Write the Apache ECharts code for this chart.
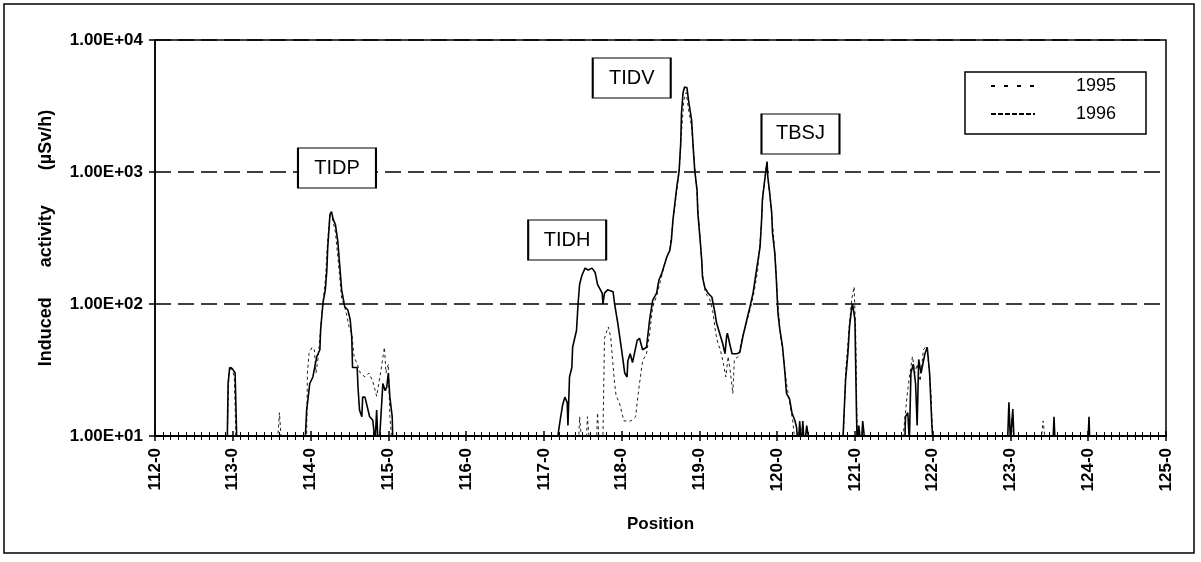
<!DOCTYPE html>
<html>
<head>
<meta charset="utf-8">
<script src="https://cdn.jsdelivr.net/npm/echarts/dist/echarts.min.js"></script>
<style>
  html, body { margin: 0; padding: 0; background: #fff; }
  #chart { width: 1201px; height: 562px; }
</style>
</head>
<body>
<div id="chart"></div>
<script>
// position along the line, induced activity (uSv/h); values under 10 fall below the axis
var pos1996 = [112.0, 112.93, 112.94, 112.96, 113.0, 113.03, 113.05, 113.86, 113.87, 113.88, 113.92, 113.93, 113.95, 113.97, 113.99, 114.03, 114.08, 114.12, 114.13, 114.16, 114.19, 114.21, 114.22, 114.25, 114.27, 114.29, 114.32, 114.35, 114.38, 114.40, 114.44, 114.48, 114.51, 114.53, 114.54, 114.60, 114.61, 114.63, 114.66, 114.67, 114.70, 114.72, 114.76, 114.80, 114.83, 114.85, 114.87, 114.89, 114.93, 114.96, 114.98, 115.0, 115.02, 115.05, 115.06, 115.08,
  117.15, 117.18, 117.21, 117.24, 117.27, 117.30, 117.31, 117.33, 117.36, 117.37, 117.42, 117.44, 117.46, 117.49, 117.53, 117.57, 117.62, 117.66, 117.69, 117.75, 117.76, 117.78, 117.82, 117.89, 117.91, 117.95, 118.00, 118.04, 118.07, 118.08, 118.11, 118.14, 118.20, 118.23, 118.27, 118.32, 118.36, 118.40, 118.45, 118.48, 118.52, 118.58, 118.62, 118.64, 118.66, 118.69, 118.71, 118.74, 118.76, 118.77, 118.79, 118.81, 118.84, 118.86, 118.90, 118.92, 118.94, 118.97, 118.98, 119.01, 119.03, 119.04, 119.07, 119.11, 119.16, 119.20, 119.22, 119.26, 119.30, 119.33, 119.35, 119.36, 119.39, 119.42, 119.48, 119.52, 119.56, 119.61, 119.65, 119.69, 119.74, 119.78, 119.80, 119.81, 119.84, 119.87, 119.88, 119.90, 119.93, 119.94, 119.97, 119.99, 120.01, 120.03, 120.07, 120.10, 120.12, 120.16, 120.19, 120.23, 120.25, 120.27, 120.29, 120.31, 120.33, 120.35, 120.38, 120.40,
  120.82, 120.84, 120.88, 120.91, 120.93, 120.96, 120.97, 121.0, 121.02, 121.03, 121.05, 121.08, 121.10, 121.12,
  121.62, 121.64, 121.65, 121.68, 121.70, 121.72, 121.75, 121.78, 121.80, 121.82, 121.85, 121.90, 121.93, 121.96, 121.99, 122.01, 122.03,
  122.95, 122.96, 122.98, 123.0, 123.03, 123.05, 123.07, 123.55, 123.56, 123.57, 124.0, 124.01, 124.02, 125.0];
var val1996 = [10, 10, 25, 33, 32, 30, 10, 10, 8, 10, 10, 9, 15.7, 19.7, 25, 28, 40, 45, 64, 102, 128, 181, 260, 480, 500, 440, 400, 300, 181, 128, 95, 90, 76, 56, 33, 33, 23.5, 15.7, 14, 19.7, 19.7, 20, 14, 13.2, 9, 15.7, 8, 10, 25, 22, 23.5, 30, 19.7, 14, 8, 10,
  10, 10, 13.2, 17, 19.7, 18, 12, 28, 33, 47, 63, 100, 141, 165, 187, 181, 187, 173, 141, 121, 100, 121, 128, 124, 100, 72, 45, 30, 28, 37, 42, 36, 53, 55, 45, 47, 76, 107, 121, 152, 173, 226, 255, 305, 433, 614, 773, 1030, 1660, 2800, 4000, 4400, 4350, 3500, 2470, 1550, 1030, 730, 490, 305, 215, 160, 133, 121, 113, 86, 72, 60, 50, 42, 57, 60, 50, 42, 42, 43, 57, 76, 95, 121, 190, 270, 433, 614, 870, 1200, 920, 730, 490, 345, 243, 152, 86, 67, 47, 30, 21, 19, 15, 13, 11.6, 8, 13, 8, 13, 8, 12, 10,
  10, 8, 26.6, 42.6, 67, 95, 100, 76, 15, 8, 12, 8, 13, 10,
  10, 8, 14, 15, 9, 30, 35, 25, 12, 38, 30, 42, 47, 30, 12, 8, 10,
  10, 8, 18, 9, 16, 8, 10, 10, 14, 10, 10, 14, 9, 10];

var pos1995 = [112.0, 112.93, 112.95, 112.98, 113.02, 113.04, 113.58, 113.60, 113.62, 113.95, 113.96, 113.98, 114.02, 114.05, 114.07, 114.10, 114.15, 114.19, 114.22, 114.25, 114.28, 114.32, 114.36, 114.40, 114.44, 114.47, 114.50, 114.53, 114.56, 114.60, 114.64, 114.70, 114.75, 114.80, 114.85, 114.90, 114.95, 114.97, 115.0, 115.02, 115.04,
  117.45, 117.46, 117.48, 117.55, 117.56, 117.58, 117.68, 117.69, 117.71, 117.76, 117.78, 117.80, 117.83, 117.86, 117.88, 117.91, 117.93, 117.97, 118.03, 118.07, 118.12, 118.18, 118.20, 118.23, 118.27, 118.32, 118.36, 118.40, 118.45, 118.50, 118.56, 118.62, 118.66, 118.70, 118.74, 118.77, 118.80, 118.83, 118.86, 118.90, 118.93, 118.96, 118.99, 119.02, 119.05, 119.08, 119.13, 119.17, 119.21, 119.24, 119.27, 119.31, 119.34, 119.37, 119.40, 119.43, 119.45, 119.50, 119.55, 119.60, 119.65, 119.70, 119.75, 119.79, 119.82, 119.86, 119.89, 119.92, 119.95, 119.98, 120.01, 120.04, 120.08, 120.12, 120.16, 120.20, 120.23, 120.30, 120.32,
  120.80, 120.85, 120.88, 120.92, 120.96, 120.99, 121.01, 121.03, 121.05,
  121.62, 121.67, 121.70, 121.74, 121.77, 121.80, 121.84, 121.88, 121.92, 121.95, 121.98, 122.0, 122.02,
  123.0, 123.02, 123.04, 123.40, 123.42, 123.44, 125.0];
var val1995 = [10, 10, 30, 34, 28, 10, 10, 15, 10, 10, 30, 42, 47, 45, 30, 40, 90, 150, 300, 470, 450, 350, 200, 110, 95, 80, 65, 60, 40, 35, 30, 28, 30, 26, 20, 30, 47, 30, 35, 14, 10,
  10, 14, 10, 10, 14, 10, 10, 15, 9, 10, 55, 60, 67, 56, 40, 25, 20, 18, 13, 13, 13, 14, 18, 25, 37, 42, 60, 95, 115, 150, 210, 260, 420, 650, 1000, 2000, 3500, 4000, 3000, 2200, 1300, 800, 450, 250, 150, 120, 110, 90, 60, 50, 45, 35, 28, 40, 30, 21, 38, 40, 55, 70, 90, 120, 180, 350, 700, 1100, 800, 550, 350, 200, 100, 60, 40, 25, 18, 13, 9, 12, 9,
  10, 9, 30, 60, 110, 135, 60, 9, 10,
  10, 20, 28, 40, 30, 35, 26, 45, 48, 35, 20, 9, 10,
  10, 14, 10, 10, 13, 10, 10];

// peak names and where their boxes sit
var peakNames = ['TIDP', 'TIDH', 'TIDV', 'TBSJ'];
var peakPos = [114.34, 117.30, 118.13, 120.30];
var peakVal = [1072, 305, 5150, 1941];

var FONT = '"Liberation Sans", Arial, sans-serif';

function pairs(xs, ys) {
  var out = [];
  for (var i = 0; i < xs.length; i++) out.push([xs[i], ys[i]]);
  return out;
}

var marks = [];
for (var i = 0; i < peakNames.length; i++) {
  marks.push({ name: peakNames[i], coord: [peakPos[i], peakVal[i]] });
}

var chart = echarts.init(document.getElementById('chart'));
chart.setOption({
  animation: false,
  backgroundColor: '#fff',
  graphic: [{
    type: 'rect',
    shape: { x: 4, y: 4, width: 1190, height: 549 },
    style: { fill: 'none', stroke: '#000', lineWidth: 1.5 },
    silent: true
  }],
  grid: {
    left: 155, right: 35, top: 40, bottom: 126,
    show: true, borderColor: '#000', borderWidth: 1.5
  },
  legend: {
    data: [
      { name: '1995', lineStyle: { type: [4, 9], width: 2, color: '#000' }, itemStyle: { opacity: 0 } },
      { name: '1996', lineStyle: { type: [5, 2], width: 2, color: '#000' }, itemStyle: { opacity: 0 } }
    ],
    orient: 'vertical',
    left: 965, top: 72,
    itemWidth: 44, itemHeight: 10, itemGap: 10,
    padding: [5, 30, 11, 25],
    borderColor: '#000', borderWidth: 1.5,
    backgroundColor: '#fff',
    formatter: '{a|{name}}',
    textStyle: {
      color: '#000', fontFamily: FONT, fontSize: 18,
      rich: { a: { width: 76, align: 'right', fontSize: 18, lineHeight: 20, fontFamily: FONT, color: '#000' } }
    }
  },
  xAxis: [{
    type: 'value',
    min: 112, max: 125, interval: 1,
    name: 'Position',
    nameLocation: 'middle',
    nameGap: 80,
    nameTextStyle: { fontFamily: FONT, fontWeight: 'bold', fontSize: 17, color: '#000' },
    axisLine: { lineStyle: { color: '#000', width: 2 } },
    axisTick: { show: true, length: 5, lineStyle: { color: '#000', width: 1.5 } },
    minorTick: { show: true, splitNumber: 10, length: 4, lineStyle: { color: '#000', width: 1 } },
    splitLine: { show: false },
    axisLabel: {
      rotate: 90, margin: 12,
      fontFamily: FONT, fontWeight: 'bold', fontSize: 17, color: '#000',
      formatter: function (v) { return v + '-0'; }
    }
  }, {
    // inner half of the ticks, so they cross the axis line
    type: 'value',
    position: 'bottom',
    min: 112, max: 125, interval: 1,
    axisLine: { show: false },
    axisTick: { show: true, inside: true, length: 5, lineStyle: { color: '#000', width: 1.5 } },
    minorTick: { show: true, splitNumber: 10, length: 4, lineStyle: { color: '#000', width: 1 } },
    splitLine: { show: false },
    axisLabel: { show: false }
  }],
  yAxis: {
    type: 'log', logBase: 10,
    min: 10, max: 10000,
    name: 'Induced      activity       (µSv/h)',
    nameLocation: 'middle',
    nameRotate: 90,
    nameGap: 100,
    nameTextStyle: { fontFamily: FONT, fontWeight: 'bold', fontSize: 18, color: '#000' },
    axisLine: { show: true, lineStyle: { color: '#000', width: 1.5 } },
    axisTick: { show: true, length: 6, lineStyle: { color: '#000', width: 1.5 } },
    splitLine: { show: true, lineStyle: { color: '#000', width: 1.5, type: [16, 7] } },
    axisLabel: {
      margin: 12,
      fontFamily: FONT, fontWeight: 'bold', fontSize: 17, color: '#000',
      formatter: function (v) {
        var e = Math.round(Math.log10(v));
        return '1.00E+' + (e < 10 ? '0' : '') + e;
      }
    }
  },
  series: [
    {
      name: '1995',
      type: 'line',
      symbol: 'none',
      clip: true,
      data: pairs(pos1995, val1995),
      lineStyle: { color: '#222', width: 1, type: [3, 3] },
      itemStyle: { color: '#000' },
      z: 2
    },
    {
      name: '1996',
      type: 'line',
      symbol: 'none',
      clip: true,
      data: pairs(pos1996, val1996),
      lineStyle: { color: '#000', width: 1.6 },
      itemStyle: { color: '#000' },
      z: 3,
      markPoint: {
        symbol: 'rect',
        symbolSize: [78, 40],
        itemStyle: { color: '#fff', borderColor: '#000', borderWidth: 1.5 },
        label: {
          show: true, position: 'inside', formatter: '{b}',
          fontFamily: FONT, fontSize: 20, color: '#000'
        },
        data: marks,
        z: 10
      }
    }
  ]
});
</script>
</body>
</html>
